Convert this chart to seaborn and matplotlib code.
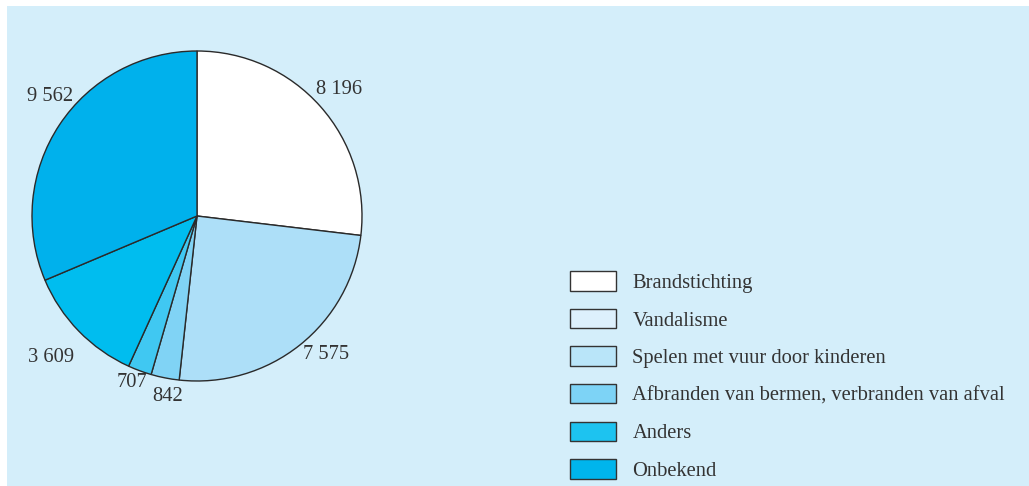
import numpy as np
import matplotlib
matplotlib.use("Agg")
import matplotlib.pyplot as plt
from matplotlib.patches import Rectangle
import seaborn as sns

categories = ["Brandstichting", "Vandalisme", "Spelen met vuur door kinderen",
              "Afbranden van bermen, verbranden van afval", "Anders", "Onbekend"]
counts = [8196, 7575, 842, 707, 3609, 9562]
slice_colors = ["#ffffff", "#addff8", "#80d3f5", "#40c8f2", "#00bdef", "#00b1ec"]
legend_colors = ["#ffffff", "#ddf0fc", "#b9e5f9", "#7dd3f6", "#1dc3f0", "#00b5ec"]
# label placement: distance (in radii) and angular nudge (degrees) per slice
label_dist = [1.15, 1.15, 1.11, 1.08, 1.23, 1.15]
label_nudge = [0, 4.5, 2.0, -1.0, 0, -5.5]

sns.set_theme(style="white")
plt.rcParams["font.family"] = ["Liberation Serif", "DejaVu Serif"]

W, H = 1029, 486
fig = plt.figure(figsize=(W / 100, H / 100), dpi=100)
fig.patch.set_facecolor("white")
fig.patches.append(Rectangle((7 / W, 0), 1 - 7 / W, 480 / H, transform=fig.transFigure,
                             facecolor="#d4eefa", edgecolor="none", zorder=-5))

# pie: centre at (197, 216) px from top-left, radius 165 px
cx, cy, r = 197, H - 216, 165
ax = fig.add_axes([(cx - r) / W, (cy - r) / H, 2 * r / W, 2 * r / H], zorder=2)
ax.patch.set_alpha(0)
wedges, _ = ax.pie(counts, colors=slice_colors, startangle=90, counterclock=False,
                   wedgeprops=dict(edgecolor="#2a2a2a", linewidth=1.0))
ax.set_xlim(-1, 1)
ax.set_ylim(-1, 1)
ax.set_aspect("equal")
ax.axis("off")

for w, n, d, nudge in zip(wedges, counts, label_dist, label_nudge):
    ang = np.deg2rad((w.theta1 + w.theta2) / 2 + nudge)
    ax.text(d * np.cos(ang), d * np.sin(ang), f"{n:,}".replace(",", " "),
            ha="center", va="center", fontsize=14.8, color="#333333")

handles = [Rectangle((0, 0), 1, 1, facecolor=c, edgecolor="#333333", linewidth=1.0)
           for c in legend_colors]
fig.legend(handles, categories, loc="upper left", bbox_to_anchor=(560 / W, 1 - 261 / H),
           frameon=False, fontsize=14.8, handlelength=2.2, handleheight=1.08,
           handletextpad=0.82, labelspacing=0.77, labelcolor="#333333", borderpad=0)

fig.savefig("out.png", dpi=100, facecolor=fig.get_facecolor())
